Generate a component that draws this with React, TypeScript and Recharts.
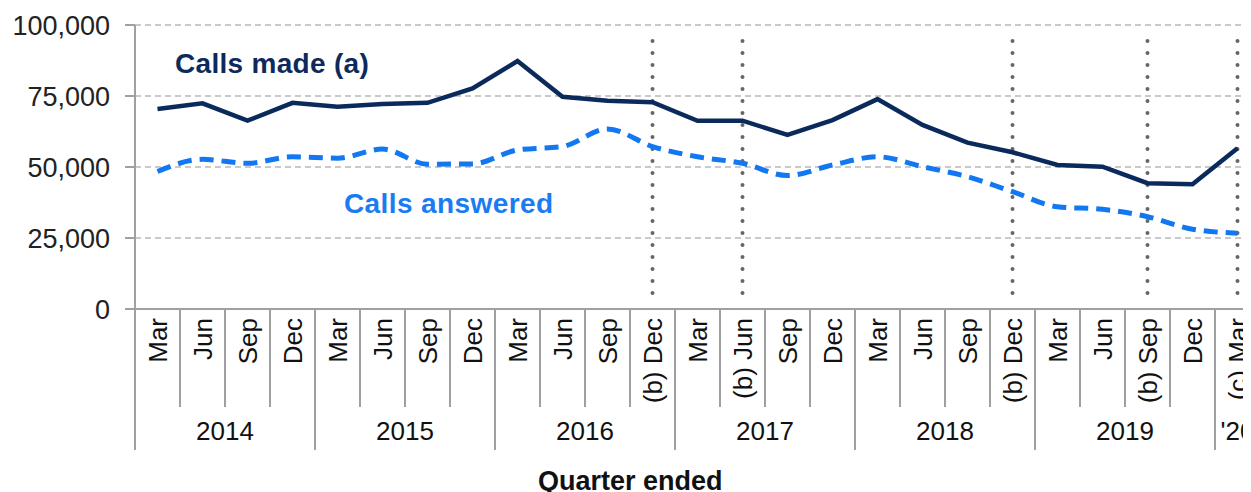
import React from 'react';
import { LineChart, Line, CartesianGrid, XAxis, YAxis, ReferenceLine } from 'recharts';

const quarters = [
  'Mar', 'Jun', 'Sep', 'Dec',
  'Mar', 'Jun', 'Sep', 'Dec',
  'Mar', 'Jun', 'Sep', '(b) Dec',
  'Mar', '(b) Jun', 'Sep', 'Dec',
  'Mar', 'Jun', 'Sep', '(b) Dec',
  'Mar', 'Jun', '(b) Sep', 'Dec',
  '(c) Mar',
];
const years = ['2014', '2015', '2016', '2017', '2018', '2019', "'20"];

const callsMade = [
  70400, 72400, 66300, 72600, 71200, 72200, 72600, 77700, 87300, 74700, 73300, 72800,
  66300, 66300, 61300, 66500, 73900, 64800, 58600, 55200, 50700, 50100, 44300, 43900, 56600,
];
const callsAnswered = [
  48400, 52700, 51300, 53600, 53100, 56300, 51000, 51100, 56000, 57200, 63400, 57200,
  53600, 51300, 47000, 50700, 53600, 50100, 46600, 41300, 36000, 35100, 32500, 28100, 26700,
];
const yTicks = [0, 25000, 50000, 75000, 100000];

const FONT = '"Liberation Sans", Arial, sans-serif';

const data = quarters.map((q, i) => ({
  pos: i + 0.5,
  made: callsMade[i],
  answered: callsAnswered[i],
}));

// boundaries on whole numbers, labels on the halves
const quarterTicks: number[] = [];
for (let i = 0; i <= quarters.length; i++) {
  quarterTicks.push(i);
  if (i < quarters.length) quarterTicks.push(i + 0.5);
}

const yearTicks = years.map((_, k) => {
  const start = k * 4;
  const count = Math.min(4, quarters.length - start);
  return start + count / 2;
});

// dotted markers sit on the footnoted quarters
const breaks = data.filter((d, i) => quarters[i].startsWith('(')).map(d => d.pos);

const QuarterTick = (props: any) => {
  const { x, y, payload } = props;
  const v = payload.value;
  if (Number.isInteger(v)) {
    const isYear = v % 4 === 0;
    return <line x1={x} x2={x} y1={y} y2={y + (isYear ? 141 : 98)} stroke="#a0a0a0" strokeWidth={2} />;
  }
  return (
    <text
      transform={`translate(${x},${y + 9}) rotate(-90)`}
      textAnchor="end"
      dy="0.35em"
      fontSize={26}
      fontFamily={FONT}
      fill="#111"
    >
      {quarters[Math.floor(v)]}
    </text>
  );
};

const YearTick = (props: any) => {
  const { x, y, payload } = props;
  const k = yearTicks.indexOf(payload.value);
  return (
    <text x={x} y={y + 31} textAnchor="middle" fontSize={26} fontFamily={FONT} fill="#111">
      {years[k]}
    </text>
  );
};

const labelStyle: React.CSSProperties = {
  position: 'absolute',
  fontFamily: FONT,
  fontWeight: 'bold',
  fontSize: 28,
  lineHeight: '28px',
  whiteSpace: 'nowrap',
};

export default function App() {
  return (
    <div style={{ position: 'relative', width: 1243, height: 484, overflow: 'hidden' }}>
      <LineChart
        width={1252}
        height={484}
        data={data}
        margin={{ top: 17, right: 0, bottom: 38, left: 0 }}
      >
        <CartesianGrid vertical={false} stroke="#b8b8b8" strokeDasharray="6 4" strokeWidth={1.5} />
        <XAxis
          xAxisId="q"
          dataKey="pos"
          type="number"
          domain={[0, quarters.length]}
          allowDataOverflow
          ticks={quarterTicks}
          interval={0}
          height={100}
          tickLine={false}
          tickSize={0}
          tickMargin={0}
          axisLine={{ stroke: '#a0a0a0', strokeWidth: 2 }}
          tick={<QuarterTick />}
        />
        <XAxis
          xAxisId="yr"
          dataKey="pos"
          type="number"
          domain={[0, quarters.length]}
          allowDataOverflow
          ticks={yearTicks}
          interval={0}
          height={45}
          tickLine={false}
          tickSize={0}
          tickMargin={0}
          axisLine={false}
          tick={<YearTick />}
        />
        <YAxis
          width={127}
          domain={[0, 100000]}
          ticks={yTicks}
          interval={0}
          tickSize={10}
          tickMargin={15}
          axisLine={{ stroke: '#a0a0a0', strokeWidth: 2 }}
          tickLine={{ stroke: '#a0a0a0', strokeWidth: 2 }}
          tick={{ fontSize: 27, fontFamily: FONT, fill: '#222' }}
          tickFormatter={(v: number) => v.toLocaleString('en-US')}
        />
        {breaks.map(p => (
          <ReferenceLine
            key={p}
            xAxisId="q"
            segment={[{ x: p, y: 94400 }, { x: p, y: 5600 }]}
            stroke="#666"
            strokeWidth={4}
            strokeDasharray="0 12"
            strokeLinecap="round"
          />
        ))}
        <Line
          xAxisId="q"
          type="monotone"
          dataKey="answered"
          stroke="#1278f2"
          strokeWidth={5}
          strokeDasharray="14 8"
          dot={false}
          isAnimationActive={false}
        />
        <Line
          xAxisId="q"
          type="linear"
          dataKey="made"
          stroke="#0b2a5c"
          strokeWidth={4.5}
          dot={false}
          isAnimationActive={false}
        />
      </LineChart>
      <div style={{ ...labelStyle, left: 167, top: 42, color: '#0d2a5c', letterSpacing: 0.3 }}>Calls made (a)</div>
      <div style={{ ...labelStyle, left: 336, top: 182, color: '#1a7cf2', letterSpacing: 0.4 }}>Calls answered</div>
      <div style={{ ...labelStyle, fontSize: 27, lineHeight: '27px', left: 530, top: 460, color: '#111' }}>Quarter ended</div>
    </div>
  );
}
